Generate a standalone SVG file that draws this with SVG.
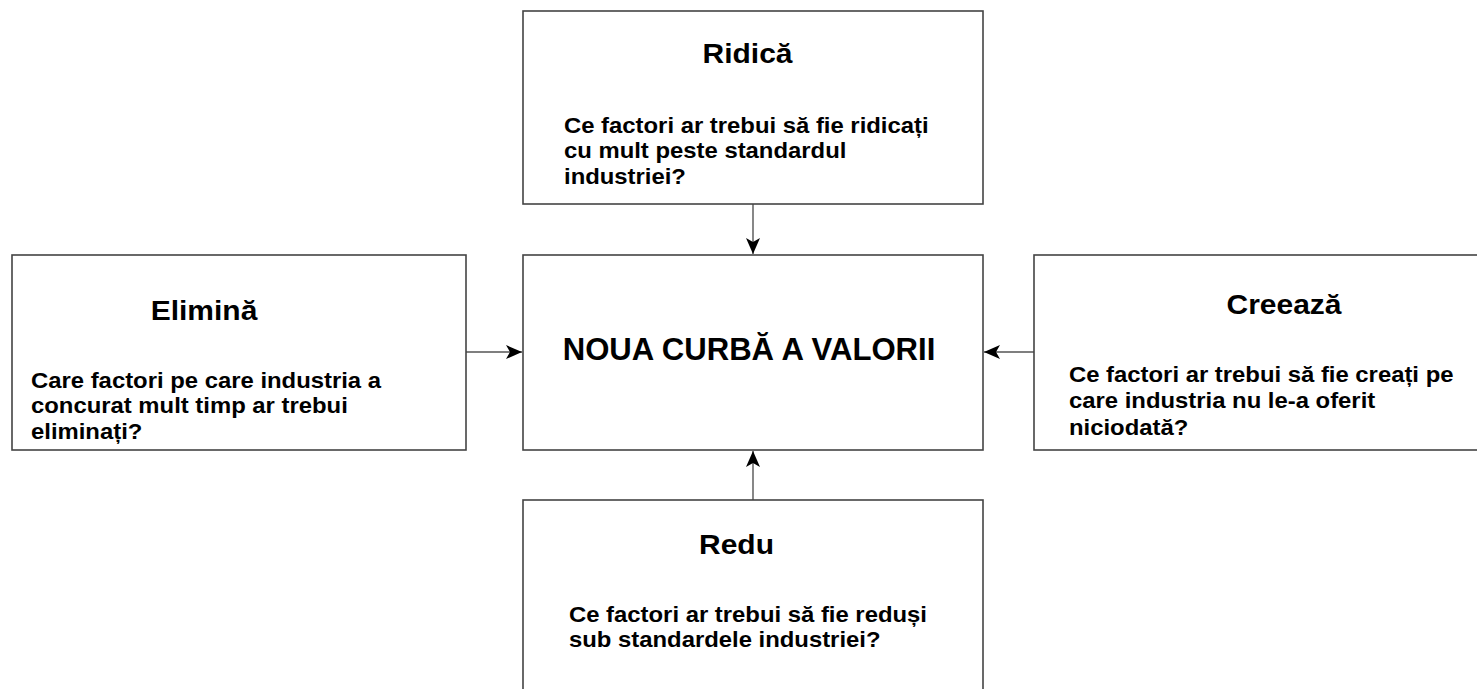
<svg xmlns="http://www.w3.org/2000/svg" width="1477" height="689" viewBox="0 0 1477 689">
<style>
.box{fill:#ffffff;stroke:#444444;stroke-width:1.6}
.t{font-family:"Liberation Sans",Arial,sans-serif;font-weight:bold;fill:#000000}
.title{font-size:27px;text-anchor:middle}
.body{font-size:21.5px}
.main{font-size:30.5px;text-anchor:middle}
.conn{stroke:#555555;stroke-width:1.4;fill:none;marker-end:url(#arr)}
</style>
<defs>
<marker id="arr" markerUnits="userSpaceOnUse" markerWidth="16" markerHeight="14" refX="16" refY="7" orient="auto">
<path d="M0,0 L16,7 L0,14 L4,7 Z" fill="#000000"/>
</marker>
</defs>
<rect x="0" y="0" width="1477" height="689" fill="#ffffff"/>
<g id="connectors">
<line class="conn" x1="753" y1="204" x2="753" y2="254"/>
<line class="conn" x1="753" y1="500" x2="753" y2="451"/>
<line class="conn" x1="466" y1="352" x2="522" y2="352"/>
<line class="conn" x1="1034" y1="352" x2="984" y2="352"/>
</g>
<g id="node-ridica">
<rect class="box" x="523" y="11" width="460" height="193"/>
<text class="t title" transform="translate(747.5,62.5) scale(1.11,1)">Ridică</text>
<text class="t body" transform="translate(564,132.5) scale(1.11,1)"><tspan x="0" y="0">Ce factori ar trebui să fie ridicați</tspan><tspan x="0" y="25.8">cu mult peste standardul</tspan><tspan x="0" y="51.6">industriei?</tspan></text>
</g>
<g id="node-center">
<rect class="box" x="523" y="255" width="460" height="195"/>
<text class="t main" transform="translate(749,359.5) scale(1.02,1)">NOUA CURBĂ A VALORII</text>
</g>
<g id="node-elimina">
<rect class="box" x="12" y="255" width="454" height="195"/>
<text class="t title" transform="translate(204,320) scale(1.11,1)">Elimină</text>
<text class="t body" transform="translate(31,387.5) scale(1.11,1)"><tspan x="0" y="0">Care factori pe care industria a</tspan><tspan x="0" y="26">concurat mult timp ar trebui</tspan><tspan x="0" y="52">eliminați?</tspan></text>
</g>
<g id="node-creeaza">
<rect class="box" x="1034" y="255" width="470" height="195"/>
<text class="t title" transform="translate(1284,314) scale(1.11,1)">Creează</text>
<text class="t body" transform="translate(1069,381.7) scale(1.11,1)"><tspan x="0" y="0">Ce factori ar trebui să fie creați pe</tspan><tspan x="0" y="26.8">care industria nu le-a oferit</tspan><tspan x="0" y="53.6">niciodată?</tspan></text>
</g>
<g id="node-redu">
<rect class="box" x="523" y="500" width="460" height="210"/>
<text class="t title" transform="translate(736.5,554) scale(1.11,1)">Redu</text>
<text class="t body" transform="translate(569,621.7) scale(1.11,1)"><tspan x="0" y="0">Ce factori ar trebui să fie reduși</tspan><tspan x="0" y="25.6">sub standardele industriei?</tspan></text>
</g>
</svg>
